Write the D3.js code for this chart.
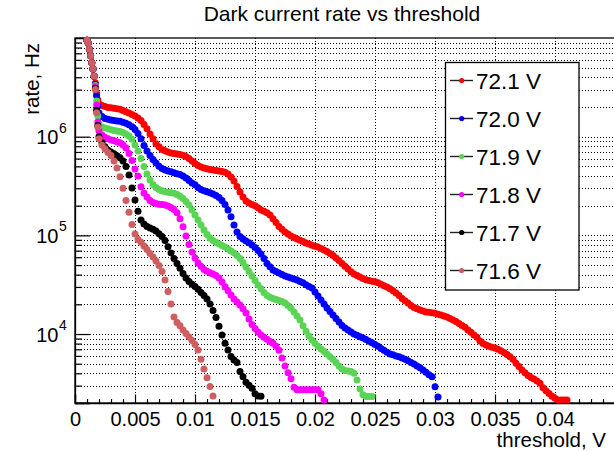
<!DOCTYPE html>
<html><head><meta charset="utf-8">
<script src="https://cdn.jsdelivr.net/npm/d3@7"></script>
<style>
body{margin:0;background:#fff}
text{font-family:"Liberation Sans",Arial,Helvetica,sans-serif;fill:#000}
</style>
</head><body>
<svg id="c" width="614" height="451"></svg>
<script>
// threshold grid in mV (shared by all series)
const thresholdsMV = [1.0,1.1,1.2,1.3,1.4,1.5,1.6,1.7,1.8,1.9,2.0,
2.25,2.5,2.75,3,3.25,3.5,3.75,4,4.25,4.5,4.75,5,5.25,5.5,5.75,6,6.25,6.5,6.75,7,
7.25,7.5,7.75,8,8.25,8.5,8.75,9,9.25,9.5,9.75,10,10.25,10.5,10.75,11,11.25,11.5,11.75,12,
12.25,12.5,12.75,13,13.25,13.5,13.75,14,14.25,14.5,14.75,15,15.25,15.5,15.75,16,16.25,16.5,16.75,17,
17.25,17.5,17.75,18,18.25,18.5,18.75,19,19.25,19.5,19.75,20,20.25,20.5,20.75,21,21.25,21.5,21.75,22,
22.25,22.5,22.75,23,23.25,23.5,23.75,24,24.25,24.5,24.75,25,25.25,25.5,25.75,26,26.25,26.5,26.75,27,
27.25,27.5,27.75,28,28.25,28.5,28.75,29,29.25,29.5,29.75,30,30.25,30.5,30.75,31,31.25,31.5,31.75,32,
32.25,32.5,32.75,33,33.25,33.5,33.75,34,34.25,34.5,34.75,35,35.25,35.5,35.75,36,36.25,36.5,36.75,37,
37.25,37.5,37.75,38,38.25,38.5,38.75,39,39.25,39.5,39.75,40,40.25,40.5,40.75,41];

// dark count rates (Hz), one value per threshold
const rate721 = [9.5e6,8.9e6,7.7e6,6.6e6,5.6e6,4.85e6,4.1e6,3.5e6,2.75e6,2.35e6,
2.15e6,2.07e6,2.02e6,1.98e6,1.96e6,1.94e6,1.92e6,1.90e6,1.84e6,1.79e6,
1.74e6,1.68e6,1.62e6,1.55e6,1.46e6,1.33e6,1.20e6,1.065e6,9.5e5,8.5e5,
7.9e5,7.4e5,7.2e5,7.0e5,6.85e5,6.75e5,6.68e5,6.6e5,6.5e5,6.3e5,
6.0e5,5.68e5,5.35e5,5.1e5,4.94e5,4.82e5,4.73e5,4.65e5,4.6e5,4.55e5,
4.5e5,4.44e5,4.37e5,4.19e5,3.91e5,3.56e5,3.13e5,2.75e5,2.45e5,2.23e5,
2.13e5,2.05e5,1.99e5,1.9e5,1.81e5,1.75e5,1.69e5,1.61e5,1.47e5,1.35e5,
1.23e5,1.15e5,1.08e5,1.03e5,9.86e4,9.5e4,9.2e4,8.9e4,8.65e4,8.37e4,
8.15e4,7.95e4,7.75e4,7.6e4,7.37e4,7.11e4,6.85e4,6.56e4,6.26e4,5.9e4,
5.57e4,5.2e4,4.85e4,4.57e4,4.28e4,4.06e4,3.92e4,3.78e4,3.65e4,3.55e4,
3.48e4,3.42e4,3.38e4,3.31e4,3.2e4,3.09e4,2.99e4,2.87e4,2.74e4,2.61e4,
2.46e4,2.29e4,2.17e4,2.06e4,1.95e4,1.86e4,1.8e4,1.75e4,1.71e4,1.675e4,
1.66e4,1.64e4,1.62e4,1.59e4,1.56e4,1.525e4,1.49e4,1.44e4,1.39e4,1.34e4,
1.28e4,1.22e4,1.17e4,1.10e4,1.04e4,9.8e3,9.25e3,8.5e3,8.0e3,7.76e3,
7.53e3,7.35e3,7.2e3,7.0e3,6.75e3,6.5e3,6.2e3,5.9e3,5.55e3,5.05e3,
4.7e3,4.33e3,4.05e3,3.8e3,3.62e3,3.5e3,3.35e3,3.17e3,2.85e3,2.66e3,
2.5e3,2.34e3,2.23e3,2.15e3,2.15e3,2.15e3,2.15e3];

const rate720 = [9.5e6,8.9e6,7.7e6,6.6e6,5.6e6,4.85e6,4.1e6,3.4e6,2.6e6,2.05e6,
1.74e6,1.6e6,1.53e6,1.5e6,1.48e6,1.46e6,1.44e6,1.43e6,1.4e6,1.37e6,
1.32e6,1.26e6,1.18e6,1.08e6,9.5e5,8.15e5,7.17e5,6.45e5,5.87e5,5.42e5,
5.02e5,4.77e5,4.6e5,4.5e5,4.41e5,4.31e5,4.21e5,4.13e5,4.0e5,3.82e5,
3.6e5,3.4e5,3.25e5,3.06e5,2.92e5,2.83e5,2.76e5,2.7e5,2.63e5,2.54e5,
2.42e5,2.25e5,2.06e5,1.81e5,1.54e5,1.27e5,1.082e5,9.75e4,9.2e4,8.77e4,
8.4e4,8.0e4,7.55e4,7.03e4,6.48e4,5.83e4,5.2e4,4.8e4,4.46e4,4.31e4,
4.16e4,4.01e4,3.88e4,3.79e4,3.7e4,3.62e4,3.52e4,3.41e4,3.3e4,3.15e4,
3.04e4,2.93e4,2.67e4,2.43e4,2.215e4,2.02e4,1.84e4,1.69e4,1.56e4,1.44e4,
1.327e4,1.22e4,1.153e4,1.1e4,1.05e4,1.0e4,9.7e3,9.4e3,9.1e3,8.8e3,
8.45e3,8.15e3,7.85e3,7.5e3,7.15e3,6.83e3,6.55e3,6.29e3,6.15e3,6.0e3,
5.87e3,5.73e3,5.54e3,5.35e3,5.16e3,4.98e3,4.75e3,4.54e3,4.33e3,4.1e3,
3.86e3,3.68e3,2.92e3,2.3e3];

const rate719 = [9.5e6,8.9e6,7.7e6,6.6e6,5.6e6,4.85e6,4.1e6,3.3e6,2.3e6,1.62e6,
1.345e6,1.25e6,1.225e6,1.2e6,1.175e6,1.155e6,1.14e6,1.13e6,1.1e6,1.065e6,
1.016e6,9.4e5,8.25e5,7.17e5,6.0e5,5.0e5,4.19e5,3.64e5,3.28e5,3.06e5,
2.92e5,2.83e5,2.77e5,2.73e5,2.7e5,2.67e5,2.6e5,2.49e5,2.36e5,2.2e5,
2.03e5,1.81e5,1.61e5,1.43e5,1.27e5,1.134e5,1.02e5,9.41e4,8.87e4,8.5e4,
8.18e4,7.9e4,7.63e4,7.28e4,6.95e4,6.63e4,6.26e4,5.83e4,5.3e4,4.79e4,
4.31e4,3.88e4,3.49e4,3.14e4,2.87e4,2.64e4,2.46e4,2.36e4,2.29e4,2.24e4,
2.19e4,2.14e4,2.06e4,1.95e4,1.82e4,1.675e4,1.525e4,1.39e4,1.21e4,1.07e4,
9.57e3,8.72e3,8.0e3,7.5e3,7.06e3,6.67e3,6.29e3,5.9e3,5.55e3,5.16e3,
4.75e3,4.43e3,4.28e3,4.23e3,4.18e3,4.0e3,3.43e3,2.78e3,2.42e3,2.33e3,
2.33e3,2.33e3];

const rate718 = [9.5e6,8.9e6,7.7e6,6.6e6,5.6e6,4.85e6,4.1e6,3.2e6,2.1e6,1.41e6,
1.14e6,1.04e6,9.8e5,9.5e5,9.26e5,9.1e5,8.9e5,8.68e5,8.25e5,7.68e5,
6.76e5,5.74e5,4.71e5,4.0e5,3.1e5,2.69e5,2.45e5,2.25e5,2.15e5,2.1e5,
2.07e5,2.05e5,2.03e5,1.98e5,1.91e5,1.83e5,1.69e5,1.47e5,1.22e5,9.86e4,
8.1e4,6.79e4,5.9e4,5.25e4,4.85e4,4.52e4,4.32e4,4.17e4,4.06e4,3.92e4,
3.7e4,3.37e4,3.02e4,2.74e4,2.49e4,2.27e4,2.11e4,1.97e4,1.8e4,1.63e4,
1.42e4,1.25e4,1.14e4,1.05e4,9.8e3,9.25e3,8.83e3,8.42e3,8.06e3,7.5e3,
6.83e3,5.73e3,4.75e3,4.05e3,3.52e3,2.88e3,2.72e3,2.72e3,2.72e3,2.72e3,
2.72e3,2.72e3,2.72e3,2.72e3,2.48e3,2.15e3];

const rate717 = [9.5e6,8.9e6,7.7e6,6.6e6,5.6e6,4.85e6,4.1e6,3.1e6,1.85e6,1.3e6,
1.0e6,8.7e5,7.9e5,7.3e5,7.0e5,6.72e5,6.4e5,6.1e5,5.68e5,4.98e5,
4.1e5,3.02e5,2.28e5,1.75e5,1.43e5,1.305e5,1.23e5,1.19e5,1.15e5,1.11e5,
1.04e5,9.75e4,8.87e4,7.68e4,6.63e4,5.83e4,5.2e4,4.63e4,4.1e4,3.7e4,
3.41e4,3.2e4,3.03e4,2.84e4,2.64e4,2.46e4,2.27e4,2.02e4,1.73e4,1.47e4,
1.2e4,9.8e3,8.06e3,6.9e3,5.93e3,5.47e3,5.16e3,4.16e3,3.68e3,3.24e3,
3.02e3,2.82e3,2.48e3,2.36e3,2.34e3];

const rate716 = [9.5e6,8.9e6,7.7e6,6.6e6,5.6e6,4.85e6,4.1e6,3.0e6,1.75e6,1.25e6,
9.5e5,8.2e5,7.5e5,6.9e5,6.45e5,5.68e5,4.82e5,3.93e5,3.0e5,2.25e5,
1.71e5,1.29e5,1.033e5,9.1e4,8.5e4,7.81e4,7.2e4,6.56e4,6.04e4,5.5e4,
4.96e4,4.31e4,3.53e4,2.7e4,2.02e4,1.49e4,1.31e4,1.21e4,1.1e4,1.01e4,
9.35e3,8.62e3,7.85e3,6.9e3,5.55e3,4.43e3,3.6e3,2.94e3,2.36e3];

const seriesLabels = ["72.1 V","72.0 V","71.9 V","71.8 V","71.7 V","71.6 V"];
const seriesColors = ["#ff0000","#0000ff","#59d454","#ff00ff","#000000","#cf5e61"];
const seriesRates = [rate721, rate720, rate719, rate718, rate717, rate716];

const xTickValues = [0,0.005,0.01,0.015,0.02,0.025,0.03,0.035,0.04];
const xTickLabels = ["0","0.005","0.01","0.015","0.02","0.025","0.03","0.035","0.04"];
const yMajorTicks = [1e4,1e5,1e6];
const yMajorExponents = ["4","5","6"];

const title = "Dark current rate vs threshold";
const xTitle = "threshold, V";
const yTitle = "rate, Hz";

// ---------- layout ----------
const svg = d3.select("#c");
svg.append("rect").attr("width",614).attr("height",451).attr("fill","#fff");

const L = 75, R = 615, T = 38, B = 403;
const x = d3.scaleLinear().domain([0,0.045]).range([L,R]);
const y = d3.scaleLog().domain([2000,1e7]).range([B,T]);

// all log ticks for the grid and minor ticks
const yAllTicks = y.ticks().filter(v => v > 2000 && v < 1e7);
const yMinor = yAllTicks.filter(v => !yMajorTicks.includes(v));
yMinor.push(2000);

// grid
const grid = svg.append("g").attr("stroke","#000").attr("stroke-width",1)
  .attr("stroke-dasharray","1,2").attr("shape-rendering","crispEdges");
grid.selectAll("line.h").data(yAllTicks).join("line")
  .attr("x1",L).attr("x2",R).attr("y1",d=>Math.round(y(d))+0.5).attr("y2",d=>Math.round(y(d))+0.5);
grid.selectAll("line.v").data(xTickValues.filter(v=>v>0)).join("line")
  .attr("y1",T).attr("y2",B).attr("x1",d=>Math.round(x(d))+0.5).attr("x2",d=>Math.round(x(d))+0.5);

// axes
const axX = svg.append("g").attr("transform",`translate(0,${B})`)
  .call(d3.axisBottom(x).tickValues(xTickValues).tickSize(-8.5).tickPadding(9)
    .tickFormat((d,i)=>xTickLabels[i]));
const xMinor = d3.range(1,45).map(v=>v/1000).filter(v=>Math.abs(v*200-Math.round(v*200))>1e-9);
svg.append("g").attr("transform",`translate(0,${B})`)
  .call(d3.axisBottom(x).tickValues(xMinor).tickSize(-4).tickFormat(""))
  .call(g=>g.select(".domain").remove());
axX.selectAll("text").attr("font-size",20).style("font-family",'"Liberation Sans",Arial,sans-serif');

const axY = svg.append("g").attr("transform",`translate(${L},0)`)
  .call(d3.axisLeft(y).tickValues(yMajorTicks).tickSize(-15).tickFormat(""));
svg.append("g").attr("transform",`translate(${L},0)`)
  .call(d3.axisLeft(y).tickValues(yMinor).tickSize(-7).tickFormat(""))
  .call(g=>g.select(".domain").remove());
svg.selectAll(".domain").attr("stroke","#000").attr("stroke-width",1.3);
svg.selectAll(".tick line").attr("stroke","#000").attr("stroke-width",1.2);

// y tick labels 10^n
const yl = svg.append("g");
yMajorTicks.forEach((v,i)=>{
  yl.append("text").attr("x",58.5).attr("y",y(v)+7.5).attr("text-anchor","end")
    .attr("font-size",20).text("10");
  yl.append("text").attr("x",59).attr("y",y(v)-4).attr("font-size",14).text(yMajorExponents[i]);
});

// frame
svg.append("rect").attr("x",L).attr("y",T).attr("width",R-L).attr("height",B-T)
  .attr("fill","none").attr("stroke","#000").attr("stroke-width",1.3);

// data
const plot = svg.append("g");
seriesRates.forEach((rates,si)=>{
  const pts = rates.map((r,i)=>({t: thresholdsMV[i]/1000, r}));
  plot.append("g").attr("fill",seriesColors[si])
    .selectAll("circle").data(pts).join("circle")
    .attr("cx",d=>x(d.t)).attr("cy",d=>y(d.r)).attr("r",3.5);
});

// titles
svg.append("text").attr("x",342).attr("y",21).attr("text-anchor","middle")
  .attr("font-size",21).text(title);
svg.append("text").attr("x",606).attr("y",447).attr("text-anchor","end")
  .attr("font-size",20.5).text(xTitle);
svg.append("text").attr("transform","translate(39,43) rotate(-90)").attr("text-anchor","end")
  .attr("font-size",20.5).text(yTitle);

// legend
const lg = svg.append("g");
lg.append("rect").attr("x",445.5).attr("y",62.5).attr("width",133.5).attr("height",227.5)
  .attr("fill","#fff").attr("stroke","#000").attr("stroke-width",1.3);
seriesLabels.forEach((lab,i)=>{
  const cy = 80.5 + i*38;
  lg.append("line").attr("x1",450).attr("x2",473).attr("y1",cy).attr("y2",cy)
    .attr("stroke","#222").attr("stroke-width",1.4);
  lg.append("circle").attr("cx",461.7).attr("cy",cy).attr("r",2.6).attr("fill",seriesColors[i]);
  lg.append("text").attr("x",476).attr("y",cy+8.3).attr("font-size",22.5).text(lab);
});
</script>
</body></html>
